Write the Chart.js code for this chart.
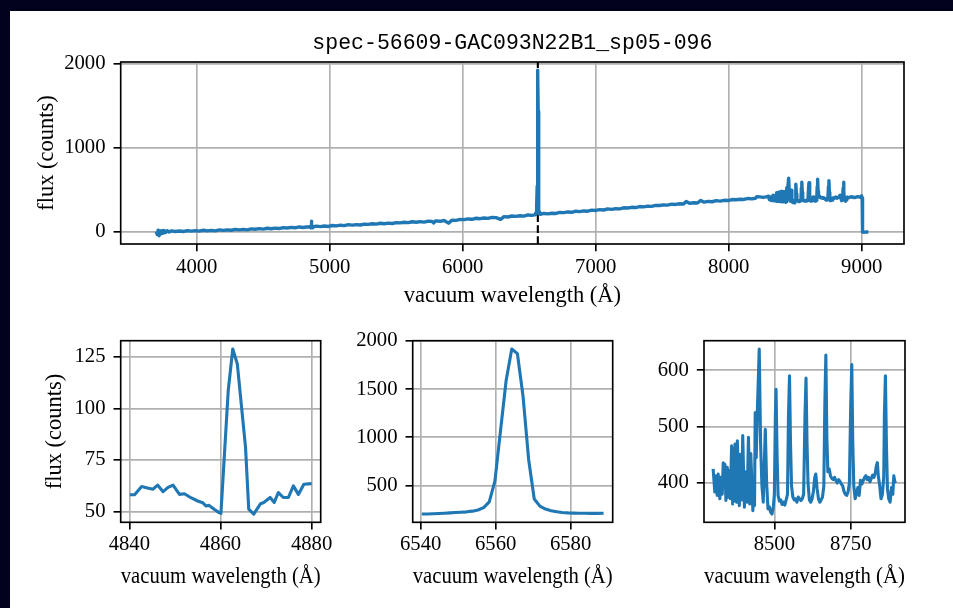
<!DOCTYPE html>
<html>
<head>
<meta charset="utf-8">
<script src="https://cdn.jsdelivr.net/npm/chart.js@4"></script>
<style>
  html, body { margin: 0; padding: 0; background: #fff; }
  #page { position: relative; width: 953px; height: 608px; overflow: hidden; background: #fff; }
  .band { position: absolute; background: #02021d; }
  canvas { position: absolute; left: 0; top: 0; }
</style>
</head>
<body>
<div id="page">
  <div class="band" style="left:0;top:0;width:953px;height:11px"></div>
  <div class="band" style="left:0;top:0;width:10px;height:608px"></div>
  <canvas id="full" width="953" height="608"></canvas>
  <canvas id="hbeta" width="953" height="608"></canvas>
  <canvas id="halpha" width="953" height="608"></canvas>
  <canvas id="ptrip" width="953" height="608"></canvas>
</div>
<script>
/* -------------------- DATA -------------------- */
const specTitle = "spec-56609-GAC093N22B1_sp05-096";
const xLabel = "vacuum wavelength (Å)";
const yLabel = "flux (counts)";
const halphaWave = 6564.61;

// full spectrum, outside the three zoom windows
const fullWave = [
  3696, 3703, 3710, 3717, 3724, 3731, 3738, 3746, 3755, 3765, 3778, 3792,
  3810, 3840, 3870, 3900, 3930, 3960, 3990, 4020, 4050, 4080, 4110, 4140, 4170, 4200,
  4230, 4260, 4290, 4320, 4350, 4380, 4410, 4440, 4470, 4500, 4530, 4560, 4590, 4620,
  4650, 4680, 4710, 4740, 4770, 4800, 4825,
  4900, 4930, 4960, 4990, 5020, 5050, 5080, 5110, 5140, 5170, 5200, 5230, 5260, 5290,
  5320, 5350, 5380, 5410, 5440, 5470, 5500, 5530, 5560, 5590, 5620, 5650, 5680, 5710,
  5740, 5770, 5782, 5795, 5830, 5860, 5893, 5920, 5950, 5980, 6010, 6040, 6070, 6100,
  6130, 6160, 6190, 6220, 6250, 6285, 6310, 6340, 6370, 6400, 6430, 6460, 6490, 6520,
  6610, 6640, 6670, 6700, 6730, 6760, 6790, 6820, 6850, 6880, 6910, 6940, 6970, 7000,
  7030, 7060, 7090, 7120, 7150, 7180, 7210, 7240, 7270, 7300, 7330, 7360, 7390, 7420,
  7450, 7480, 7510, 7540, 7570, 7600, 7630, 7660, 7680, 7705, 7735, 7765, 7790, 7815,
  7845, 7875, 7905, 7935, 7965, 7995, 8025, 8055, 8085, 8115, 8145, 8175, 8200, 8210,
  8235, 8260, 8280,
  8920, 8945, 8970, 8990, 8998, 9003, 9006, 9020, 9035, 9050
];
const fullFlux = [
  5, -30, 22, -44, 12, -22, 16, -14, 18, -6, 16, 0,
  13, 6, 12, 6, 16, 11, 17, 11, 21, 14, 20, 14, 25, 20,
  26, 21, 31, 25, 32, 26, 37, 33, 40, 34, 45, 39, 46, 41,
  52, 48, 55, 50, 60, 54, 59,
  70, 64, 71, 66, 77, 73, 81, 76, 87, 81, 88, 83, 94, 90,
  98, 93, 104, 98, 105, 101, 112, 108, 116, 111, 122, 116, 123, 118,
  129, 125, 108, 132, 127, 137, 105, 141, 138, 150, 147, 155, 151, 163,
  158, 166, 162, 174, 171, 150, 182, 178, 190, 185, 193, 189, 202, 198,
  220, 215, 223, 220, 232, 230, 238, 234, 247, 242, 250, 247, 259, 256,
  265, 261, 274, 269, 278, 275, 287, 285, 293, 290, 302, 298, 307, 304,
  316, 314, 322, 319, 331, 327, 335, 332, 362, 340, 347, 344, 375, 354,
  363, 359, 372, 367, 376, 373, 385, 382, 389, 386, 398, 393, 400, 418,
  417, 410, 416,
  418, 409, 420, 412, 428, 405, 0, -2, 1, 0
];

// H-beta window
const hbWave = [
  4840.1, 4841.2, 4842.7, 4844.2, 4845.2, 4846.2, 4847.4, 4848.5, 4849.6, 4851.0,
  4852.1, 4853.5, 4855.0, 4856.1, 4856.8, 4857.5, 4858.6, 4859.7, 4860.1, 4861.7,
  4862.7, 4863.7, 4865.5, 4866.2, 4867.3, 4868.8, 4869.5, 4870.9, 4871.8, 4872.7,
  4873.8, 4874.9, 4876.0, 4877.1, 4878.3, 4880.0
];
const hbFlux = [
  58.2, 58.3, 62.2, 61.4, 60.9, 62.9, 59.7, 61.8, 62.9, 58.4,
  58.7, 56.8, 55.2, 54.4, 52.8, 53.1, 51.2, 49.6, 49.2, 108.5,
  128.7, 121.4, 81.1, 51.3, 48.9, 53.9, 54.5, 56.9, 54.5, 59.3,
  56.9, 56.9, 62.5, 58.4, 63.3, 63.6
];

// H-alpha window
const haWave = [
  6540.3, 6541.8, 6543.3, 6544.8, 6546.3, 6547.8, 6549.3, 6550.8, 6552.3, 6553.8,
  6555.3, 6556.8, 6558.3, 6559.8, 6561.3, 6562.8, 6564.3, 6565.8, 6567.3, 6568.8,
  6570.3, 6571.8, 6573.3, 6574.8, 6576.3, 6577.8, 6579.3, 6580.8, 6582.3, 6583.8,
  6585.3, 6586.8, 6588.8
];
const haFlux = [
  203, 204, 206, 208, 211, 215, 219, 222, 226, 233,
  245, 270, 330, 545, 1070, 1590, 1918, 1870, 1430, 770,
  360, 285, 255, 238, 226, 219, 215, 213, 212, 211,
  210, 210, 212
];

// Paschen / Ca triplet window
const caWave = [
  8299.7, 8305.2, 8308.5, 8312.9, 8316.2, 8321.7, 8323.9, 8329.4, 8332.7, 8336.0,
  8338.2, 8341.5, 8345.9, 8349.2, 8352.5, 8355.8, 8360.2, 8363.5, 8365.7, 8369.0,
  8371.2, 8376.7, 8378.9, 8385.5, 8387.7, 8393.2, 8396.5, 8402.0, 8406.4, 8410.8,
  8415.2, 8419.6, 8422.9, 8429.6, 8431.8, 8435.1, 8437.3, 8440.6, 8445.0, 8450.5,
  8454.9, 8459.3, 8463.7, 8470.3, 8474.7, 8479.1, 8483.5, 8487.9, 8492.3, 8496.7,
  8500.0, 8503.3, 8505.5, 8508.8, 8512.1, 8516.5, 8520.9, 8525.3, 8529.7, 8534.1,
  8538.5, 8542.9, 8546.2, 8549.5, 8552.8, 8556.1, 8560.5, 8564.9, 8569.3, 8573.7,
  8578.1, 8582.5, 8586.9, 8591.3, 8595.7, 8600.2, 8603.5, 8606.8, 8610.1, 8614.5,
  8618.9, 8623.3, 8627.7, 8632.1, 8635.4, 8639.8, 8644.2, 8648.6, 8653.0, 8657.4,
  8661.8, 8665.1, 8668.4, 8671.7, 8675.0, 8679.4, 8683.8, 8688.2, 8692.6, 8697.0,
  8701.4, 8705.8, 8710.2, 8714.6, 8719.0, 8723.4, 8727.8, 8732.2, 8736.6, 8741.0,
  8745.4, 8749.8, 8753.2, 8756.5, 8759.8, 8764.2, 8768.6, 8773.0, 8777.4, 8781.8,
  8786.2, 8790.6, 8795.0, 8799.4, 8803.8, 8808.2, 8812.6, 8817.0, 8821.4, 8825.8,
  8830.2, 8833.5, 8836.8, 8840.1, 8844.5, 8848.9, 8853.3, 8857.7, 8859.9, 8863.2,
  8866.5, 8869.8, 8874.2, 8878.6, 8883.0, 8887.4, 8890.7, 8894.0, 8897.4
];
const caFlux = [
  425, 384, 413, 378, 416, 372, 410, 380, 436, 395,
  433, 369, 428, 375, 422, 372, 466, 363, 460, 368,
  469, 366, 475, 360, 451, 370, 484, 357, 420, 366,
  481, 363, 452, 351, 395, 360, 525, 445, 540, 637.6,
  470, 395, 366, 495, 400, 354, 358, 348, 345, 358,
  380, 520, 566, 450, 378, 368, 370, 362, 366, 361,
  370, 380, 520, 590, 470, 395, 375, 370, 372, 366,
  375, 372, 369, 372, 380, 520, 586, 470, 400, 370,
  366, 372, 385, 410, 416, 390, 372, 366, 370, 375,
  395, 540, 627, 480, 420, 425, 412, 408, 406, 410,
  404, 400, 406, 403, 398, 395, 385, 380, 378, 384,
  400, 540, 610, 470, 395, 372, 382, 392, 378, 405,
  398, 404, 410, 413, 406, 410, 402, 408, 414, 410,
  418, 430, 436, 412, 395, 372, 380, 410, 520, 590,
  470, 390, 372, 366, 392, 380, 413, 402, 404
];

// tick values
const fullXTicks = [4000, 5000, 6000, 7000, 8000, 9000];
const fullYTicks = [0, 1000, 2000];
const hbXTicks = [4840, 4860, 4880];
const hbYTicks = [50, 75, 100, 125];
const haXTicks = [6540, 6560, 6580];
const haYTicks = [500, 1000, 1500, 2000];
const caXTicks = [8250, 8500, 8750];
const caYTicks = [300, 400, 500, 600, 700];

/* -------------------- HELPERS -------------------- */
const SERIF = "'Liberation Serif', 'Times New Roman', serif";
const MONO = "'Liberation Mono', 'Courier New', monospace";
const BLUE = "#1f77b4";
const Y_W = 90, X_H = 70;

function toPoints(wave, flux) {
    return wave.map((w, i) => ({ x: w, y: flux[i] }));
}

// matplotlib-style autoscale with 5% margins
function padLimits(values) {
    const lo = Math.min(...values), hi = Math.max(...values);
    const m = (hi - lo) * 0.05;
    return [lo - m, hi + m];
}

function fixedTicks(values) {
    return scale => {
        scale.ticks = values
            .filter(v => v >= scale.min && v <= scale.max)
            .map(v => ({ value: v }));
    };
}

function gridOpts() {
    return {
        color: "#b0b0b0", lineWidth: 1.65,
        drawTicks: true, tickLength: 7.2, tickColor: "#000", tickWidth: 1.65
    };
}

const frame = {
    id: "frame",
    beforeDatasetsDraw(chart, args, opts) {
        if (opts.vline == null) return;
        const { ctx, chartArea: a } = chart;
        const px = chart.scales.x.getPixelForValue(opts.vline);
        ctx.save();
        ctx.strokeStyle = "#000";
        ctx.lineWidth = 2.1;
        ctx.setLineDash([7.7, 3.3]);
        ctx.beginPath();
        ctx.moveTo(px, a.bottom);
        ctx.lineTo(px, a.top);
        ctx.stroke();
        ctx.restore();
    },
    afterDatasetsDraw(chart) {
        const { ctx, chartArea: a } = chart;
        ctx.save();
        ctx.strokeStyle = "#000";
        ctx.lineWidth = 1.65;
        ctx.strokeRect(a.left, a.top, a.right - a.left, a.bottom - a.top);
        ctx.restore();
    }
};

function makePanel(id, points, area, xTicks, yTicks, cfg) {
    const xLim = padLimits(points.map(p => p.x));
    const yLim = padLimits(points.map(p => p.y));

    return new Chart(document.getElementById(id), {
        type: "line",
        data: {
            datasets: [{
                data: points,
                borderColor: BLUE,
                borderWidth: cfg.lineWidth || 3.1,
                borderJoinStyle: "round",
                pointRadius: 0,
                tension: 0,
                fill: false
            }]
        },
        options: {
            responsive: false,
            animation: false,
            devicePixelRatio: 1,
            events: [],
            layout: {
                padding: {
                    left: area.left - Y_W,
                    right: 953 - area.right,
                    top: cfg.title ? 0 : area.top,
                    bottom: 608 - area.bottom - X_H
                }
            },
            plugins: {
                legend: { display: false },
                tooltip: { enabled: false },
                title: cfg.title ? {
                    display: true,
                    text: cfg.title,
                    fullSize: false,
                    color: "#000",
                    font: { family: MONO, size: 21.5, weight: "normal" },
                    padding: { top: 30.4, bottom: 5.8 }
                } : { display: false },
                frame: { vline: cfg.vline }
            },
            scales: {
                x: {
                    type: "linear",
                    min: xLim[0], max: xLim[1],
                    afterBuildTicks: fixedTicks(xTicks),
                    afterFit: s => { s.height = X_H; },
                    grid: gridOpts(),
                    border: { display: false },
                    ticks: {
                        color: "#000", padding: cfg.xTickPad, autoSkip: false,
                        maxRotation: 0, minRotation: 0,
                        font: { family: SERIF, size: 20.7 },
                        callback: v => String(v)
                    },
                    title: {
                        display: true, text: xLabel, color: "#000",
                        font: { family: SERIF, size: 22.5 },
                        padding: { top: 0, bottom: cfg.xTitlePad }
                    }
                },
                y: {
                    type: "linear",
                    min: yLim[0], max: yLim[1],
                    afterBuildTicks: fixedTicks(yTicks),
                    afterFit: s => { s.width = Y_W; },
                    grid: gridOpts(),
                    border: { display: false },
                    ticks: {
                        color: "#000", padding: 8, autoSkip: false,
                        font: { family: SERIF, size: 20.7 },
                        callback: v => String(v)
                    },
                    title: cfg.yTitle ? {
                        display: true, text: yLabel, color: "#000",
                        font: { family: SERIF, size: 22.5 },
                        padding: { top: cfg.yTitlePad, bottom: 0 }
                    } : { display: false }
                }
            }
        },
        plugins: [frame]
    });
}

/* -------------------- BUILD -------------------- */
const hbPoints = toPoints(hbWave, hbFlux);
const haPoints = toPoints(haWave, haFlux);
const caPoints = toPoints(caWave, caFlux);
const fullPoints = toPoints(fullWave, fullFlux)
    .concat(hbPoints, haPoints, caPoints)
    .sort((a, b) => a.x - b.x);

makePanel("full", fullPoints,
    { left: 120.7, top: 62, right: 904, bottom: 244 },
    fullXTicks, fullYTicks,
    { title: specTitle, vline: halphaWave, yTitle: true, yTitlePad: 2.8,
      xTitlePad: 4.5, xTickPad: 4, lineWidth: 3.4 });

makePanel("hbeta", hbPoints,
    { left: 120.7, top: 340.7, right: 320.7, bottom: 522.3 },
    hbXTicks, hbYTicks,
    { yTitle: true, yTitlePad: 10.8, xTitlePad: 2.0, xTickPad: 3 });

makePanel("halpha", haPoints,
    { left: 412.7, top: 340.7, right: 612.7, bottom: 522.3 },
    haXTicks, haYTicks,
    { yTitle: false, xTitlePad: 2.0, xTickPad: 3 });

makePanel("ptrip", caPoints,
    { left: 704, top: 340.7, right: 905, bottom: 522.3 },
    caXTicks, caYTicks,
    { yTitle: false, xTitlePad: 2.0, xTickPad: 3 });
</script>
</body>
</html>
